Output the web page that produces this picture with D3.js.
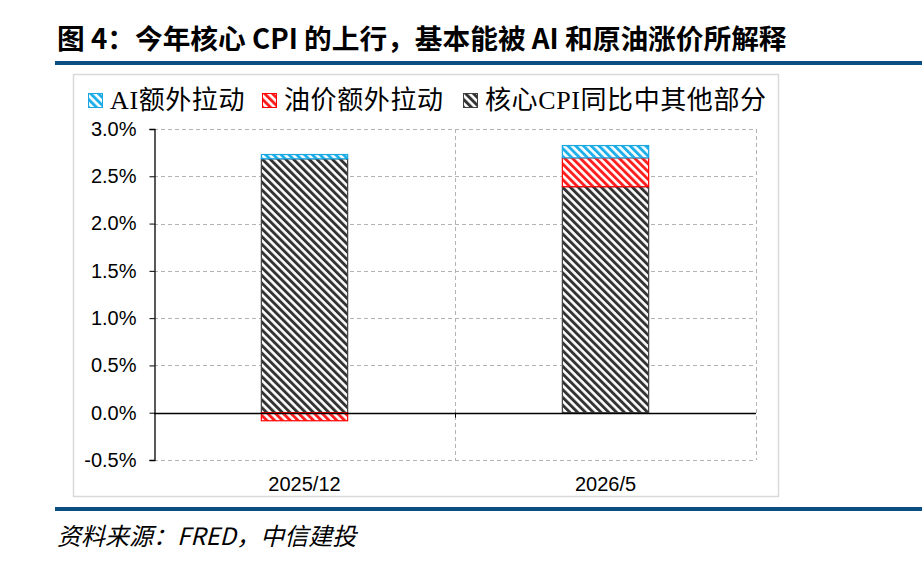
<!DOCTYPE html>
<html>
<head>
<meta charset="utf-8" />
<title>图4</title>
<script src="https://cdn.jsdelivr.net/npm/d3@7/dist/d3.min.js"></script>
<style>
  body { margin: 0; background: #fff; }
</style>
</head>
<body>
<script>
    // data
    var categories = ['2025/12', '2026/5'];
    var seriesNames = ['AI额外拉动', '油价额外拉动', '核心CPI同比中其他部分'];
    var coreOther = [2.685, 2.39];
    var oilExtra = [-0.085, 0.305];
    var aiExtra = [0.045, 0.13];
    var yTicks = [-0.5, 0, 0.5, 1.0, 1.5, 2.0, 2.5, 3.0];

    var width = 922, height = 569;
    var svg = d3.select('body').append('svg').attr('width', width).attr('height', height);

    // stripe patterns (top-left to bottom-right)
    var defs = svg.append('defs');
    var colors = [
        { id: 'pAI', stripe: '#1fb0ea', edge: '#1aa7e3' },
        { id: 'pOil', stripe: '#ff1f1f', edge: '#ff0000' },
        { id: 'pCore', stripe: '#333333', edge: '#404040' }
    ];
    colors.forEach(function(c) {
        var p = defs.append('pattern').attr('id', c.id).attr('patternUnits', 'userSpaceOnUse')
            .attr('width', 5.5).attr('height', 5.5).attr('patternTransform', 'rotate(-45)');
        p.append('rect').attr('width', 5.5).attr('height', 5.5).attr('fill', '#fff');
        p.append('rect').attr('width', 2.9).attr('height', 5.5).attr('fill', c.stripe);
    });

    // title
    svg.append('text').attr('x', 57).attr('y', 49)
        .attr('font-family', 'Noto Sans CJK SC, sans-serif').attr('font-weight', 'bold')
        .attr('font-size', 27.7).attr('fill', '#000')
        .text('图 4：今年核心 CPI 的上行，基本能被 AI 和原油涨价所解释');
    svg.append('rect').attr('x', 55).attr('y', 61).attr('width', width - 55).attr('height', 4).attr('fill', '#0b4f82');
    svg.append('rect').attr('x', 55).attr('y', 507).attr('width', width - 55).attr('height', 4).attr('fill', '#0b4f82');

    // chart frame
    svg.append('rect').attr('x', 73.5).attr('y', 74.5).attr('width', 705).attr('height', 422)
        .attr('fill', 'none').attr('stroke', '#d9d9d9').attr('stroke-width', 1.5);

    // source
    svg.append('text').attr('x', 57).attr('y', 545)
        .attr('font-family', 'Noto Sans CJK SC, sans-serif').attr('font-style', 'italic')
        .attr('font-size', 24).attr('fill', '#000')
        .text('资料来源：FRED，中信建投');

    var left = 154, right = 756;
    var x = d3.scaleBand().domain(categories).range([left, right]).paddingInner(0.71).paddingOuter(0.355);
    var y = d3.scaleLinear().domain([-0.5, 3.0]).range([460, 129]);

    var g = svg.append('g');

    // horizontal grid
    g.selectAll('.hgrid').data(yTicks.filter(function(d) { return d !== 0; })).enter().append('line')
        .attr('x1', left).attr('x2', right)
        .attr('y1', function(d) { return Math.round(y(d)) + 0.5; })
        .attr('y2', function(d) { return Math.round(y(d)) + 0.5; })
        .attr('stroke', '#b3b3b3').attr('stroke-dasharray', '4,3');
    // vertical grid
    var vx = [left + (right - left) / 2, right];
    g.selectAll('.vgrid').data(vx).enter().append('line')
        .attr('x1', function(d) { return Math.round(d) + 0.5; })
        .attr('x2', function(d) { return Math.round(d) + 0.5; })
        .attr('y1', y(3.0)).attr('y2', y(-0.5))
        .attr('stroke', '#b3b3b3').attr('stroke-dasharray', '4,3');

    // stacked bars
    var stackData = categories.map(function(c, i) {
        var segs = [];
        var pos = 0, neg = 0;
        [[coreOther[i], 'pCore', '#404040'], [oilExtra[i], 'pOil', '#ff0000'], [aiExtra[i], 'pAI', '#1aa7e3']].forEach(function(s) {
            var v = s[0];
            if (v >= 0) { segs.push({ c: c, y0: pos, y1: pos + v, fill: s[1], edge: s[2] }); pos += v; }
            else { segs.push({ c: c, y0: neg + v, y1: neg, fill: s[1], edge: s[2] }); neg += v; }
        });
        return segs;
    });
    var flat = [].concat.apply([], stackData);
    g.selectAll('.seg').data(flat).enter().append('rect')
        .attr('x', function(d) { return x(d.c) + 0.5; })
        .attr('width', x.bandwidth() - 1)
        .attr('y', function(d) { return y(d.y1); })
        .attr('height', function(d) { return y(d.y0) - y(d.y1); })
        .attr('fill', function(d) { return 'url(#' + d.fill + ')'; })
        .attr('stroke', function(d) { return d.edge; }).attr('stroke-width', 1.2);

    // zero line
    g.append('line').attr('x1', left).attr('x2', right)
        .attr('y1', Math.round(y(0)) + 0.5).attr('y2', Math.round(y(0)) + 0.5)
        .attr('stroke', '#000').attr('stroke-width', 1.3);
    g.append('line').attr('x1', vx[0] + 0.5).attr('x2', vx[0] + 0.5)
        .attr('y1', y(0)).attr('y2', y(0) + 5).attr('stroke', '#000');

    // y axis
    var yAxis = d3.axisLeft(y).tickValues(yTicks).tickSize(5).tickPadding(13)
        .tickFormat(function(d) { return d.toFixed(1) + '%'; });
    var ya = svg.append('g').attr('transform', 'translate(' + (left + 0.5) + ',0)').call(yAxis);
    ya.select('.domain').attr('stroke', '#000').attr('stroke-width', 1.3);
    ya.selectAll('text').attr('font-family', 'Liberation Sans, Arial, sans-serif').attr('font-size', 20).attr('fill', '#000');

    // x labels
    svg.selectAll('.xl').data(categories).enter().append('text')
        .attr('x', function(d) { return x(d) + x.bandwidth() / 2; })
        .attr('y', 491).attr('text-anchor', 'middle')
        .attr('font-family', 'Liberation Sans, Arial, sans-serif').attr('font-size', 20).attr('fill', '#000')
        .text(function(d) { return d; });

    // legend
    var legX = [88, 262, 463];
    var legFill = ['pAI', 'pOil', 'pCore'];
    var legEdge = ['#1aa7e3', '#ff0000', '#404040'];
    var leg = svg.selectAll('.leg').data(seriesNames).enter().append('g')
        .attr('transform', function(d, i) { return 'translate(' + legX[i] + ',93)'; });
    leg.append('rect').attr('x', 0.5).attr('y', 0.5).attr('width', 14).attr('height', 14)
        .attr('fill', function(d, i) { return 'url(#' + legFill[i] + ')'; })
        .attr('stroke', function(d, i) { return legEdge[i]; });
    leg.append('text').attr('x', 22).attr('y', 16)
        .attr('font-family', 'Liberation Serif, Noto Sans CJK SC, serif').attr('font-size', 26)
        .attr('letter-spacing', 0.6).attr('fill', '#000')
        .text(function(d) { return d; });
</script>
</body>
</html>
